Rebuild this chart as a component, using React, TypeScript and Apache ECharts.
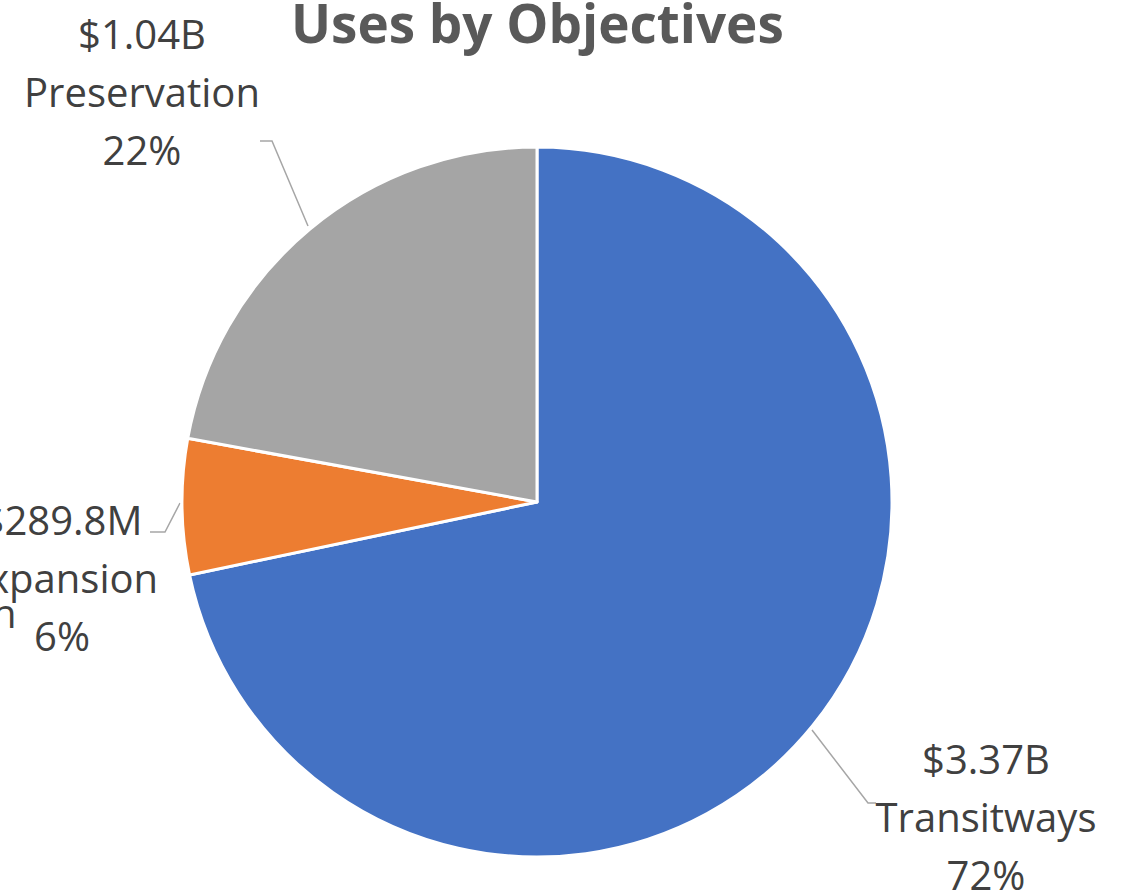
import React, { useEffect, useRef } from "react";
import * as echarts from "echarts";

const categories = ["Transitways", "Expansion", "Preservation"];
const valuesB = [3.37, 0.2898, 1.04];
const colors = ["#4472C4", "#ED7D31", "#A5A5A5"];
const titleText = "Uses by Objectives";

// label anchor positions (center of label block) and leader line points
const labelPos: Record<string, { x: number; y: number; line: number[][] }> = {
  Transitways: { x: 986, y: 816, line: [[812, 730], [868, 803], [876, 803]] },
  Expansion: { x: 62, y: 577, line: [[180, 503], [165, 532], [150, 532]] },
  Preservation: { x: 142, y: 91, line: [[308, 226], [272, 141], [260, 141]] },
};

function fmtMoney(v: number): string {
  return v < 1 ? `$${(v * 1000).toFixed(1)}M` : `$${v.toFixed(2)}B`;
}

export default function App() {
  const ref = useRef<HTMLDivElement>(null);
  useEffect(() => {
    if (!ref.current) return;
    const chart = echarts.init(ref.current, undefined, { renderer: "svg" });
    const font = "'Open Sans', 'Noto Sans', sans-serif";
    chart.setOption({
      animation: false,
      backgroundColor: "#ffffff",
      graphic: [
        {
          type: "text",
          left: 291,
          top: -4,
          style: {
            text: titleText,
            font: `bold 53px ${font}`,
            fill: "#595959",
          },
        },
        {
          type: "text",
          left: -8,
          top: 592,
          style: { text: "n", font: `40px ${font}`, fill: "#404040" },
        },
      ],
      series: [
        {
          type: "pie",
          center: [537, 502],
          radius: [0, 355],
          startAngle: 90,
          clockwise: true,
          itemStyle: { borderColor: "#ffffff", borderWidth: 3 },
          label: {
            show: true,
            position: "outside",
            fontFamily: font,
            fontSize: 40,
            lineHeight: 58,
            color: "#404040",
            align: "center",
            overflow: "none",
            formatter: (p: any) => `${fmtMoney(p.value)}\n${p.name}\n${Math.round(p.percent)}%`,
          },
          labelLine: {
            show: true,
            lineStyle: { color: "#A6A6A6", width: 1.5 },
          },
          labelLayout: (params: any) => {
            const name = categories[params.dataIndex];
            const p = labelPos[name];
            return {
              x: p.x,
              y: p.y,
              align: "center",
              verticalAlign: "middle",
              labelLinePoints: p.line,
            };
          },
          data: categories.map((c, i) => ({
            name: c,
            value: valuesB[i],
            itemStyle: { color: colors[i] },
          })),
        },
      ],
    });
    return () => chart.dispose();
  }, []);
  return (
    <div
      ref={ref}
      style={{ position: "absolute", left: 0, top: 0, width: 1122, height: 893 }}
    />
  );
}
